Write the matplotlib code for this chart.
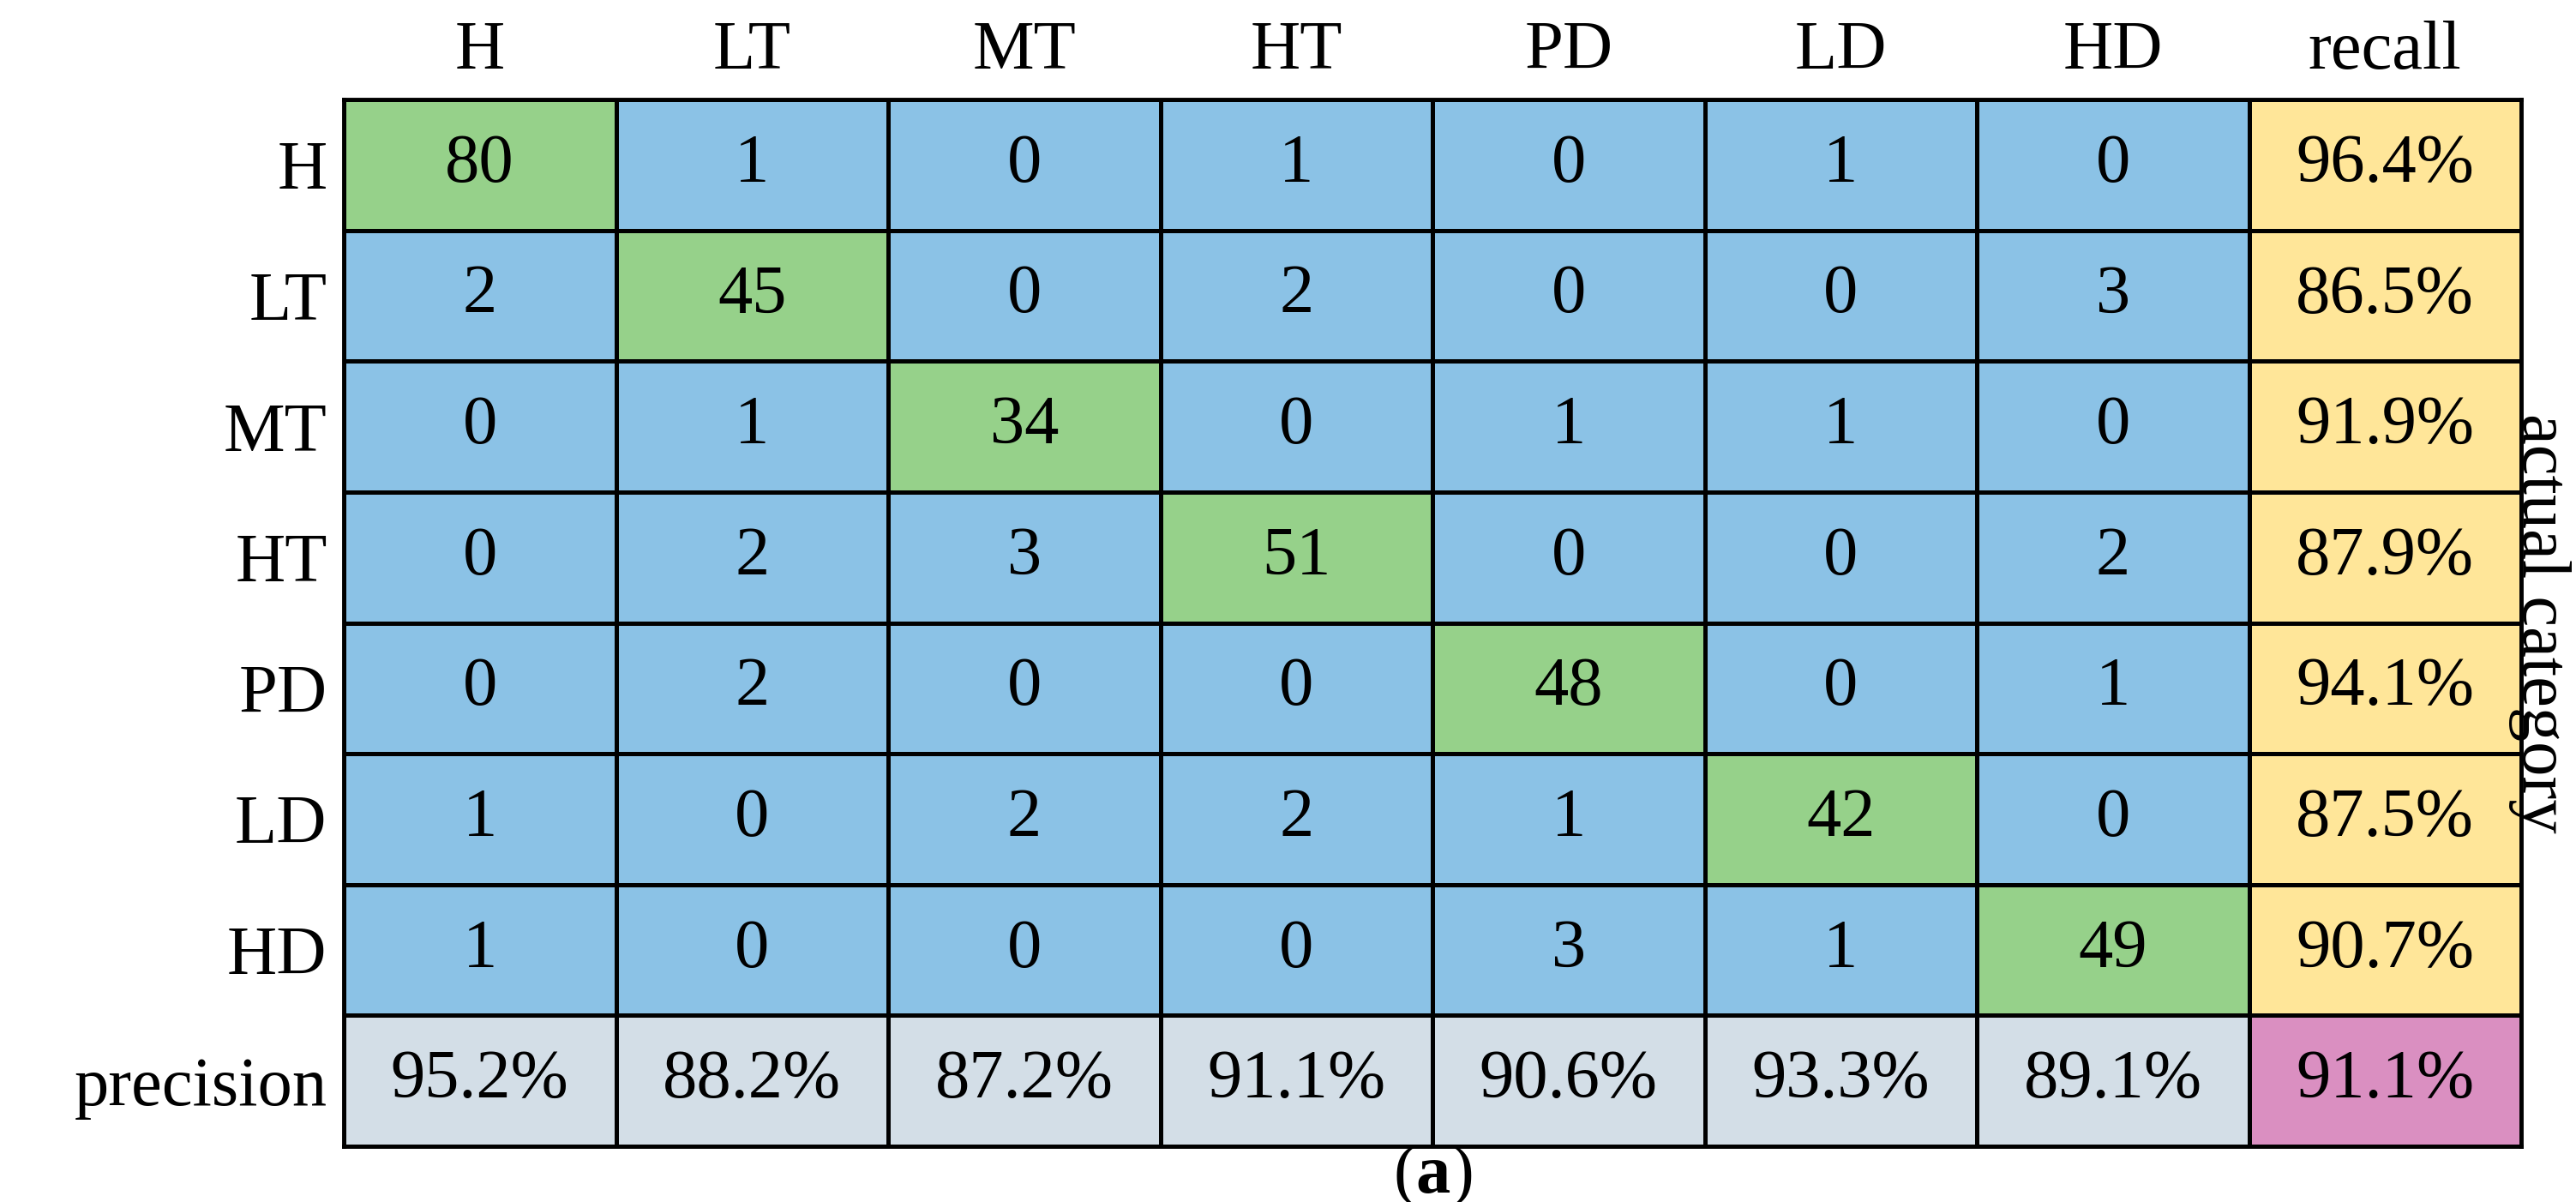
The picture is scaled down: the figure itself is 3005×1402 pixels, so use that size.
import numpy as np
import matplotlib
matplotlib.use("Agg")
import matplotlib.pyplot as plt
from matplotlib.colors import ListedColormap

classes = ["H", "LT", "MT", "HT", "PD", "LD", "HD"]
matrix = [
    [80, 1, 0, 1, 0, 1, 0],
    [2, 45, 0, 2, 0, 0, 3],
    [0, 1, 34, 0, 1, 1, 0],
    [0, 2, 3, 51, 0, 0, 2],
    [0, 2, 0, 0, 48, 0, 1],
    [1, 0, 2, 2, 1, 42, 0],
    [1, 0, 0, 0, 3, 1, 49],
]
recall = ["96.4%", "86.5%", "91.9%", "87.9%", "94.1%", "87.5%", "90.7%"]
precision = ["95.2%", "88.2%", "87.2%", "91.1%", "90.6%", "93.3%", "89.1%"]
overall = "91.1%"

plt.rcParams['font.family'] = ['Liberation Serif', 'DejaVu Serif']
plt.rcParams['mathtext.fontset'] = 'custom'
plt.rcParams['mathtext.rm'] = 'Liberation Serif'
plt.rcParams['mathtext.bf'] = 'Liberation Serif:bold'
fig = plt.figure(figsize=(30.05, 14.02), dpi=100)
ax = fig.add_axes([401/3005, 1-1337/1402, (2941-401)/3005, (1337-116)/1402])

n = len(classes)
codes = np.zeros((n+1, n+1))
for i in range(n):
    codes[i, i] = 1
    codes[i, n] = 2
    codes[n, i] = 3
codes[n, n] = 4
cmap = ListedColormap(["#8BC2E6", "#96D18A", "#FFE699", "#D3DEE7", "#DA8FC1"])
ax.pcolormesh(np.arange(n+2), np.arange(n+2), codes, cmap=cmap, vmin=-0.5, vmax=4.5,
              edgecolors="black", linewidth=3.5)
ax.set_xlim(0, n+1)
ax.set_ylim(n+1, 0)
fs = 58
for i in range(n):
    for j in range(n):
        ax.text(j+0.5, i+0.5, str(matrix[i][j]), ha="center", va="center", fontsize=fs)
    ax.text(n+0.5, i+0.5, recall[i], ha="center", va="center", fontsize=fs)
    ax.text(i+0.5, n+0.5, precision[i], ha="center", va="center", fontsize=fs)
ax.text(n+0.5, n+0.5, overall, ha="center", va="center", fontsize=fs)

ax.set_xticks(np.arange(n+1)+0.5)
ax.set_xticklabels(classes + ["recall"], fontsize=fs)
ax.xaxis.tick_top()
ax.set_yticks(np.arange(n+1)+0.5)
ax.set_yticklabels(classes + ["precision"], fontsize=fs)
ax.tick_params(length=0, pad=14)
for s in ax.spines.values():
    s.set_linewidth(3.5)

fig.text(2962/3005, 1-(116+1337)/2/1402, "actual category", rotation=-90, ha="center", va="center", fontsize=fs)
fig.text((401+2941)/2/3005, 1-1372/1402, r"($\mathbf{a}$)", ha="center", va="center", fontsize=fs)
fig.savefig("out.png", dpi=100)
